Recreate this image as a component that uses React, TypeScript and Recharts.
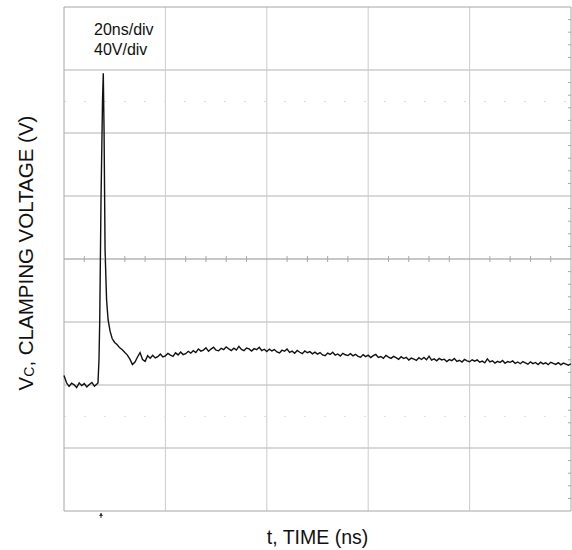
import React from 'react';
import {
  ComposedChart, Line, Scatter, XAxis, YAxis, ReferenceLine,
} from 'recharts';

// Oscilloscope settings: 20 ns/div, 40 V/div
const X_GRID = [20, 40, 60, 80];
const Y_GRID = [-40, 0, 40, 120, 160, 200];
const CENTER_MINOR_T = [4, 8, 12, 16, 24, 28, 32, 36, 44, 48, 52, 56, 64, 68, 72, 76, 84, 88, 92, 96];
const EDGE_MINOR_V = [-72, -64, -56, -48, -32, -24, -16, -8, 8, 16, 24, 32, 48, 56, 64, 72, 88, 96, 104, 112, 128, 136, 144, 152, 168, 176, 184, 192, 208, 216, 224, 232];
const TRIGGER_T = 7.3;

// pre-trigger baseline, t = 0 .. 6.5 ns (0.5 ns step)
const baselineVolts = [6.0, 1.4, -0.9, 1.1, 0.2, -1.6, 1.3, -0.4, 0.9, -1.2, 0.3, 1.6, -0.8, 0.7];

// clamping spike
const spikeTimes = [6.7, 6.9, 7.05, 7.3, 7.6, 7.75, 7.9, 8.1, 8.4, 8.7, 9.1];
const spikeVolts = [1.3, 15.9, 41.3, 117.5, 181, 198, 162, 85.7, 54, 41.3, 34];

// tail, t = 9.5 .. 100 ns (0.5 ns step)
const tailStart = 9.5;
const tailVolts = [
  29.5, 27.0, 25.5, 23.6, 22.4, 20.6, 19.0, 16.4, 13.0, 14.6, 17.8, 20.6, 16.2, 15.0, 18.6, 17.0,
  18.9, 17.2, 18.0, 19.6, 17.8, 18.5, 20.1, 19.0, 18.2, 20.4, 19.1, 21.0, 19.3, 19.9, 21.4, 20.2,
  21.8, 20.6, 22.9, 21.5, 22.2, 23.6, 21.4, 22.8, 24.0, 22.1, 21.7, 23.3, 22.5, 24.2, 22.9, 21.9,
  23.4, 22.2, 24.5, 22.6, 21.8, 23.5, 22.9, 21.6, 23.1, 22.4, 24.0, 21.9, 22.7, 21.3, 22.8, 21.6,
  22.5, 21.0, 20.4, 22.1, 21.4, 22.8, 20.7, 21.5, 20.2, 21.9, 20.8, 19.9, 21.6, 20.5, 21.2, 19.8,
  20.9, 19.6, 20.6, 19.1, 18.6, 20.3, 19.4, 20.8, 18.9, 19.7, 18.4, 20.1, 19.2, 18.7, 19.9, 18.5,
  19.5, 18.2, 17.6, 19.3, 18.0, 18.9, 17.4, 18.6, 19.4, 17.5, 18.1, 17.0, 18.8, 17.7, 16.9, 18.2,
  17.4, 16.3, 18.0, 16.8, 17.6, 15.9, 17.1, 16.5, 15.6, 17.3, 16.2, 17.5, 16.0, 18.3, 15.8, 16.6,
  15.4, 16.9, 15.9, 16.4, 14.9, 16.1, 15.5, 16.8, 15.0, 15.7, 14.6, 16.2, 15.3, 14.8, 16.0, 15.1,
  15.9, 14.5, 15.2, 14.1, 16.6, 14.7, 15.4, 13.9, 15.0, 14.3, 15.6, 13.8, 14.9, 14.4, 15.3, 13.7,
  14.6, 13.5, 14.9, 14.0, 13.2, 14.7, 13.6, 14.3, 13.0, 14.5, 13.4, 14.1, 12.9, 14.4, 13.7, 13.1,
  14.2, 12.8, 13.9, 13.3, 12.6, 13.5,
];

const STEP = 0.5;
const trace = [
  ...baselineVolts.map((v, i) => ({ t: i * STEP, v })),
  ...spikeTimes.map((t, i) => ({ t, v: spikeVolts[i] })),
  ...tailVolts.map((v, i) => ({ t: tailStart + i * STEP, v })),
];

const centerTicks = CENTER_MINOR_T.map((t) => ({ t, v: 80 }));
const edgeTicks = EDGE_MINOR_V.map((v) => ({ t: 100, v }));
const trigger = [{ t: TRIGGER_T, v: -80 }];

const FONT = '"Liberation Sans", Arial, sans-serif';
const GRID = '#cccccc';
const FRAME = '#a6a6a6';

const VTick = (p: any) => (
  <line x1={p.cx} x2={p.cx} y1={p.cy - 3} y2={p.cy + 3} stroke="#a8a8a8" strokeWidth={1} />
);
const HTick = (p: any) => (
  <line x1={p.cx - 3} x2={p.cx} y1={p.cy} y2={p.cy} stroke="#a8a8a8" strokeWidth={1} />
);
const TrigMark = (p: any) => (
  <g>
    <line x1={p.cx} x2={p.cx} y1={p.cy + 2} y2={p.cy + 7} stroke="#333" strokeWidth={1} />
    <polygon points={`${p.cx - 2},${p.cy + 5} ${p.cx + 2},${p.cy + 5} ${p.cx},${p.cy + 2}`} fill="#333" />
  </g>
);

const YLabel = (props: any) => {
  const vb = props.viewBox || { x: 0, y: 7, width: 64, height: 504 };
  const cx = vb.x + 25;
  const cy = vb.y + vb.height / 2 - 6;
  return (
    <text
      x={cx}
      y={cy}
      transform={`rotate(-90 ${cx} ${cy})`}
      textAnchor="middle"
      dominantBaseline="central"
      fontFamily={FONT}
      fontSize={20.5}
      fill="#111"
    >
      <tspan>V</tspan>
      <tspan fontSize={14} dy={4}>C</tspan>
      <tspan dy={-4}>, CLAMPING VOLTAGE (V)</tspan>
    </text>
  );
};

export default function App() {
  return (
    <div style={{ position: 'absolute', left: 0, top: 0, width: 572, height: 550, background: '#fff' }}>
      <ComposedChart
        width={572}
        height={550}
        data={trace}
        margin={{ top: 7, right: 1, bottom: 0, left: 0 }}
      >
        <XAxis
          dataKey="t"
          type="number"
          domain={[0, 100]}
          tick={false}
          tickLine={false}
          axisLine={false}
          height={39}
          label={{ value: 't, TIME (ns)', position: 'insideBottom', offset: 6, fontSize: 19.5, fill: '#111', fontFamily: FONT }}
        />
        <YAxis
          dataKey="v"
          type="number"
          domain={[-80, 240]}
          tick={false}
          tickLine={false}
          axisLine={false}
          width={64}
          label={<YLabel />}
        />
        {X_GRID.map((x) => (
          <ReferenceLine key={`x${x}`} x={x} stroke={GRID} />
        ))}
        {Y_GRID.map((y) => (
          <ReferenceLine key={`y${y}`} y={y} stroke={GRID} strokeWidth={1.3} />
        ))}
        <ReferenceLine y={180} stroke="#dcdcdc" strokeDasharray="2 18" />
        <ReferenceLine y={-20} stroke="#e0e0e0" strokeDasharray="2 18" />
        <ReferenceLine y={80} stroke="#b4b4b4" strokeWidth={1.5} />
        <ReferenceLine x={0} stroke={FRAME} />
        <ReferenceLine x={100} stroke={FRAME} />
        <ReferenceLine y={240} stroke={FRAME} />
        <ReferenceLine y={-80} stroke={FRAME} />
        <Scatter data={centerTicks} dataKey="v" shape={VTick} isAnimationActive={false} />
        <Scatter data={edgeTicks} dataKey="v" shape={HTick} isAnimationActive={false} />
        <Scatter data={trigger} dataKey="v" shape={TrigMark} isAnimationActive={false} />
        <Line
          type="linear"
          dataKey="v"
          stroke="#111"
          strokeWidth={1.4}
          dot={false}
          activeDot={false}
          isAnimationActive={false}
        />
      </ComposedChart>
      <div
        style={{
          position: 'absolute', left: 94, top: 20, fontFamily: FONT, fontSize: 16,
          lineHeight: '20px', color: '#111',
        }}
      >
        20ns/div<br />40V/div
      </div>
    </div>
  );
}
